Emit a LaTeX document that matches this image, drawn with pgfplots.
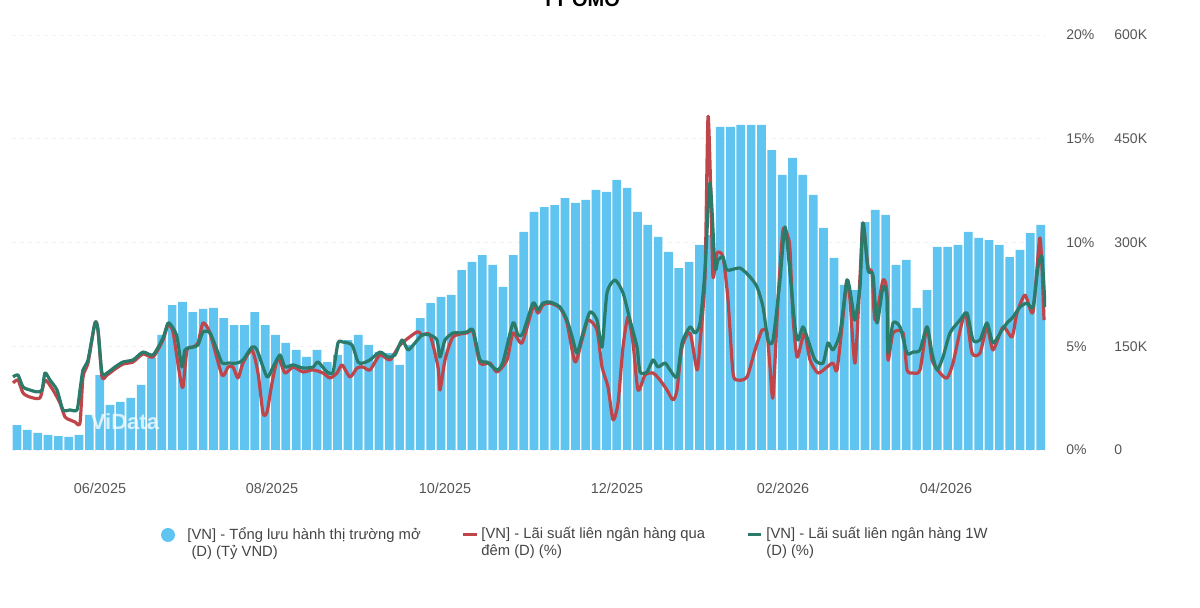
\documentclass[border=0pt]{standalone}
\usepackage{fontspec}
\setmainfont{Liberation Sans}
\usepackage{pgfplots}
\usepackage{pgfplotstable}
\pgfplotsset{compat=1.18}
\definecolor{barblue}{HTML}{5FC4F0}
\definecolor{lred}{HTML}{BE464B}
\definecolor{lgreen}{HTML}{2B7B6B}
\definecolor{tickgray}{HTML}{555555}
\definecolor{leggray}{HTML}{444444}

\pgfplotstableread{
x y
17.0 36.1
27.3 28.9
37.7 24.6
48.0 21.7
58.4 20.2
68.7 18.8
79.0 21.7
89.4 50.6
99.7 108.4
110.1 65.1
120.4 69.4
130.7 75.2
141.1 94.0
151.4 133.0
161.8 166.3
172.1 209.6
182.4 214.0
192.8 199.5
203.1 203.9
213.5 205.3
223.8 190.8
234.1 180.7
244.5 180.7
254.8 199.5
265.2 180.7
275.5 166.3
285.8 154.7
296.2 144.6
306.5 134.5
316.9 144.6
327.2 127.2
337.5 137.4
347.9 159.0
358.2 166.3
368.6 151.8
378.9 141.7
389.2 140.2
399.6 122.9
409.9 151.8
420.3 190.8
430.6 212.5
440.9 221.2
451.3 224.1
461.6 260.2
472.0 271.8
482.3 281.9
492.6 267.5
503.0 235.7
513.3 281.9
523.7 315.2
534.0 344.1
544.3 351.3
554.7 354.2
565.0 364.3
575.4 357.1
585.7 361.5
596.0 375.9
606.4 373.0
616.7 390.4
627.1 378.8
637.4 344.1
647.7 325.3
658.1 308.0
668.4 286.3
678.8 263.1
689.1 271.8
699.4 296.4
709.8 310.8
720.1 467.0
730.5 467.0
740.8 469.9
751.1 469.9
761.5 469.9
771.8 433.7
782.2 397.6
792.5 422.2
802.8 397.6
813.2 368.7
823.5 321.0
833.9 277.6
844.2 238.6
854.5 231.3
864.9 329.6
875.2 347.0
885.6 339.8
895.9 267.5
906.2 274.7
916.6 205.3
926.9 231.3
937.3 293.5
947.6 293.5
957.9 296.4
968.3 315.2
978.6 306.5
989.0 303.6
999.3 296.4
1009.6 279.0
1020.0 289.2
1030.3 313.7
1040.7 325.3
}\bars

\pgfplotstableread{
x y
13 3.23
18 3.37
23 2.75
30 2.55
40 2.51
45 3.37
53 2.89
60 2.26
65 1.59
70 1.45
75 1.35
80 1.30
83 3.52
88 4.19
95 6.12
98 5.78
102 3.52
107 3.61
115 3.90
123 4.14
133 4.24
143 4.63
153 4.48
163 5.30
168 6.02
173 5.69
180 3.52
183 3.04
187 4.82
193 4.96
198 5.16
203 6.12
210 5.64
222 3.61
228 4.00
233 4.00
238 3.47
243 4.19
252 4.82
258 3.71
263 1.78
267 1.83
272 3.23
278 4.43
285 3.71
293 4.00
303 3.76
313 3.86
323 3.71
330 3.47
337 3.71
342 4.10
350 3.52
357 3.95
363 4.00
370 3.86
380 4.58
390 4.34
400 5.06
417 5.69
422 5.54
430 5.54
438 4.00
440 2.89
445 4.34
453 5.45
467 5.64
473 5.69
480 4.19
490 4.19
497 3.76
507 4.34
513 5.64
522 5.16
533 6.89
538 6.60
543 6.99
550 7.08
560 6.84
567 6.12
575 4.24
582 5.30
588 6.26
597 5.78
602 4.00
608 3.04
613 1.45
618 2.26
623 4.96
628 6.41
633 5.16
638 2.89
645 3.61
653 3.71
660 3.37
667 2.89
673 2.41
677 2.89
682 4.96
690 5.64
697 3.86
700 5.16
705 8.34
708 16.05
711 12.05
713 8.34
717 9.49
723 9.30
728 7.23
733 3.71
738 3.37
747 3.52
755 4.82
762 5.78
767 5.64
770 4.00
773 2.55
778 7.23
783 10.60
788 10.27
790 9.64
793 6.41
797 4.48
802 5.30
805 5.64
810 4.34
818 3.71
827 4.00
833 4.19
837 3.86
843 6.41
847 8.19
850 7.23
855 4.19
860 8.34
863 10.94
868 8.82
872 8.53
875 6.26
883 8.19
887 7.57
888 4.34
893 5.64
903 5.64
907 3.86
913 3.71
920 3.86
927 5.93
932 4.34
940 3.71
947 3.47
953 4.19
965 6.60
972 4.67
980 4.67
987 5.93
993 4.82
1003 5.93
1012 5.45
1017 6.60
1025 7.47
1033 6.65
1040 10.22
1044 6.26
}\overnight

\pgfplotstableread{
x y
13 3.52
18 3.61
23 3.04
30 2.89
37 2.80
42 2.89
45 3.71
50 3.37
57 2.89
63 1.93
70 1.93
77 1.93
80 2.89
83 3.86
88 4.34
95 6.12
98 5.78
102 3.71
107 3.71
115 4.00
123 4.24
133 4.34
143 4.72
153 4.58
163 5.40
168 6.12
173 5.88
177 5.45
182 4.00
185 4.82
193 4.96
198 5.06
203 5.69
210 5.64
217 4.82
222 4.19
228 4.19
237 4.19
243 4.34
252 4.96
257 4.82
267 3.52
273 4.00
280 4.58
285 4.00
293 4.10
303 3.95
313 4.00
318 4.24
327 3.76
333 3.76
338 5.16
343 5.20
352 5.06
358 4.24
363 4.19
370 4.34
380 4.72
388 4.48
395 4.58
402 5.30
408 4.82
415 5.16
422 5.54
430 5.54
437 5.30
440 4.48
445 5.30
453 5.64
460 5.64
467 5.69
473 5.78
480 4.34
487 4.24
497 3.86
503 4.24
513 6.12
518 5.54
523 5.64
533 7.08
538 6.75
543 7.08
550 7.13
560 6.89
567 6.26
573 5.30
577 4.67
583 5.64
590 6.65
597 6.26
602 4.96
607 7.57
615 8.19
623 7.57
630 6.26
637 4.96
640 3.76
647 3.76
653 4.34
658 4.00
665 4.19
670 3.86
677 3.52
682 5.16
690 5.93
695 5.64
700 6.12
705 8.67
710 12.87
715 8.82
718 9.16
723 9.30
727 8.67
740 8.77
750 8.34
757 7.86
763 6.89
768 5.30
773 5.30
780 8.19
785 10.75
790 8.53
795 5.93
798 5.30
803 5.93
808 5.30
815 4.34
823 4.19
828 5.16
833 4.82
840 5.64
847 8.19
852 7.08
855 6.26
860 7.86
863 10.94
868 8.67
873 8.43
877 6.12
883 7.86
887 7.37
888 4.67
893 6.12
900 5.93
907 4.67
913 4.72
920 4.82
927 5.93
932 4.67
937 3.86
943 4.48
950 5.64
960 6.26
967 6.60
973 5.30
980 5.30
987 6.12
993 5.16
1002 5.78
1007 6.12
1013 6.41
1020 6.89
1027 7.08
1033 6.89
1038 8.82
1042 9.30
1045 6.89
}\oneweek

\begin{document}
\begin{tikzpicture}[x=1pt,y=1pt]
\begin{axis}[
  at={(6pt,79pt)}, anchor=south west,
  scale only axis, width=517pt, height=207.5pt,
  xmin=12, xmax=1046, ymin=0, ymax=600,
  axis line style={draw=none}, tick style={draw=none},
  xtick={100,272,445,617,783,946},
  xticklabels={06/2025,08/2025,10/2025,12/2025,02/2026,04/2026},
  xticklabel style={anchor=center, inner sep=0pt, yshift=-19pt, font=\fontsize{7.2}{8}\selectfont, text=tickgray},
  ytick={0,150,300,450,600},
  yticklabels={0,150K,300K,450K,600K},
  yticklabel pos=right,
  yticklabel style={anchor=west, inner sep=0pt, xshift=34pt, font=\fontsize{7}{8}\selectfont, text=tickgray},
  ymajorgrids, grid style={gray!10, dash pattern=on 2pt off 2pt},
]
\addplot[ybar, bar width=8.7, bar shift=0pt, fill=barblue, draw=none] table[x=x,y=y] {\bars};
\end{axis}
\node[text=white, opacity=0.75, font=\fontsize{11}{12}\selectfont\bfseries] at (62.5pt,93pt) {ViData};
\begin{axis}[
  at={(6pt,79pt)}, anchor=south west,
  scale only axis, width=517pt, height=207.5pt,
  xmin=12, xmax=1046, ymin=0, ymax=20,
  axis line style={draw=none}, tick style={draw=none},
  xtick=\empty,
  ytick={0,5,10,15,20},
  yticklabels={0\%,5\%,10\%,15\%,20\%},
  yticklabel pos=right,
  yticklabel style={anchor=west, inner sep=0pt, xshift=10pt, font=\fontsize{7}{8}\selectfont, text=tickgray},
]
\addplot[lred, line width=1.6pt, smooth, tension=0.4, line join=round] table[x=x,y=y] {\overnight};
\addplot[lgreen, line width=1.6pt, smooth, tension=0.4, line join=round] table[x=x,y=y] {\oneweek};
\end{axis}
% legend
\fill[barblue] (84pt,36.5pt) circle (3.5pt);
\node[anchor=north west, inner sep=0pt, align=left, text=leggray, font=\fontsize{7.4}{8.5}\selectfont] at (93.5pt,40.5pt) {[VN] - Tổng lưu hành thị trường mở\\\ (D) (Tỷ VND)};
\draw[lred, line width=1.5pt] (231.5pt,36.5pt) -- (238.5pt,36.5pt);
\node[anchor=north west, inner sep=0pt, align=left, text=leggray, font=\fontsize{7.4}{8.5}\selectfont] at (240.5pt,40.5pt) {[VN] - Lãi suất liên ngân hàng qua\\đêm (D) (\%)};
\draw[lgreen, line width=1.5pt] (374pt,36.5pt) -- (380.5pt,36.5pt);
\node[anchor=north west, inner sep=0pt, align=left, text=leggray, font=\fontsize{7.4}{8.5}\selectfont] at (383pt,40.5pt) {[VN] - Lãi suất liên ngân hàng 1W\\(D) (\%)};
% title (cut off at top, as in the reference)
\node[anchor=base, inner sep=0pt, font=\fontsize{10}{12}\selectfont\bfseries] at (290.5pt,300.5pt) {TT OMO};
\pgfresetboundingbox
\path[use as bounding box] (0,0) rectangle (600pt,304pt);
\end{tikzpicture}
\end{document}
